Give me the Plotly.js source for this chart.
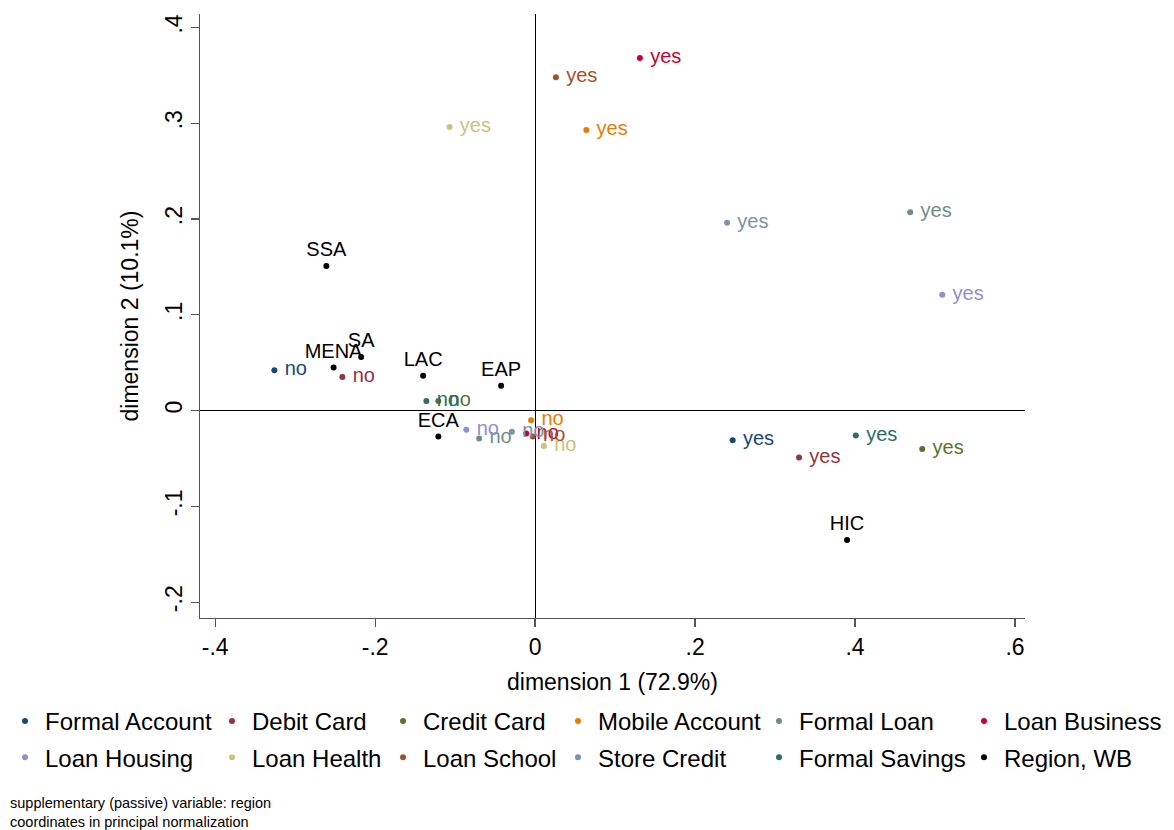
<!DOCTYPE html>
<html>
<head>
<meta charset="utf-8">
<script src="https://cdn.plot.ly/plotly-3.0.1.min.js"></script>
<style>html,body{margin:0;padding:0;background:#fff;}#chart{width:1174px;height:830px;}</style>
</head>
<body>
<div id="chart"></div>
<script>
// ---- data ----
const categories = ["Formal Account","Debit Card","Credit Card","Mobile Account","Formal Loan","Loan Business",
                    "Loan Housing","Loan Health","Loan School","Store Credit","Formal Savings"];
const levelLabels = ["no","yes"];
// dimension 1 coordinates [no, yes]
const dim1 = {
  "Formal Account": [-0.326, 0.247],
  "Debit Card":     [-0.241, 0.330],
  "Credit Card":    [-0.121, 0.484],
  "Mobile Account": [-0.005, 0.064],
  "Formal Loan":    [-0.070, 0.469],
  "Loan Business":  [-0.011, 0.131],
  "Loan Housing":   [-0.086, 0.509],
  "Loan Health":    [ 0.011,-0.107],
  "Loan School":    [-0.003, 0.026],
  "Store Credit":   [-0.029, 0.240],
  "Formal Savings": [-0.136, 0.401]
};
// dimension 2 coordinates [no, yes]
const dim2 = {
  "Formal Account": [ 0.042,-0.031],
  "Debit Card":     [ 0.035,-0.049],
  "Credit Card":    [ 0.010,-0.040],
  "Mobile Account": [-0.010, 0.293],
  "Formal Loan":    [-0.029, 0.207],
  "Loan Business":  [-0.024, 0.368],
  "Loan Housing":   [-0.020, 0.121],
  "Loan Health":    [-0.037, 0.296],
  "Loan School":    [-0.027, 0.348],
  "Store Credit":   [-0.022, 0.196],
  "Formal Savings": [ 0.010,-0.026]
};
const regions = ["SSA","MENA","SA","LAC","EAP","ECA","HIC"];
const regionDim1 = [-0.261,-0.252,-0.2175,-0.140,-0.0425,-0.121,0.390];
const regionDim2 = [ 0.151, 0.045, 0.056, 0.0365, 0.026,-0.027,-0.135];
const regionName = "Region, WB";

const xTickVals = [-0.4,-0.2,0,0.2,0.4,0.6];
const xTickText = ["-.4","-.2","0",".2",".4",".6"];
const yTickVals = [-0.2,-0.1,0,0.1,0.2,0.3,0.4];
const yTickText = ["-.2","-.1","0",".1",".2",".3",".4"];

// ---- styles ----
const colors = {
  "Formal Account":"#1a476f","Debit Card":"#90353b","Credit Card":"#55752f","Mobile Account":"#e37e00",
  "Formal Loan":"#6e8e84","Loan Business":"#c10534","Loan Housing":"#938dd2","Loan Health":"#cac27e",
  "Loan School":"#a0522d","Store Credit":"#7b92a8","Formal Savings":"#2d6d66"
};
const FONT = "Liberation Sans, Arial, Helvetica, sans-serif";
const legendOrder = categories.concat([regionName]);
const legendIds = ["legend","legend2","legend3","legend4","legend5","legend6"];

const traces = [];
categories.forEach((c) => {
  traces.push({
    type:"scatter", mode:"markers+text", name:c, showlegend:false, hoverinfo:"skip",
    x: dim1[c], y: dim2[c], text: levelLabels.map(s => " " + s),
    textposition:"middle right",
    textfont:{family:FONT, size:20, color:colors[c]},
    marker:{size:6, color:colors[c]}, cliponaxis:false
  });
});
traces.push({
  type:"scatter", mode:"markers+text", name:regionName, showlegend:false, hoverinfo:"skip",
  x: regionDim1, y: regionDim2, text: regions, textposition:"top center",
  textfont:{family:FONT, size:20, color:"#000"},
  marker:{size:6, color:"#000"}, cliponaxis:false
});
legendOrder.forEach((n, i) => {
  const col = i % 6;
  traces.push({
    type:"scatter", mode:"markers", name:n, x:[null], y:[null],
    marker:{size:6, color: colors[n] || "#000"},
    legend: legendIds[col], legendgroup: "g"+i, showlegend:true, hoverinfo:"skip"
  });
});

const L = 200, R = 149, T = 14, B = 212, W = 1174, H = 830;
const pw = W - L - R, ph = H - T - B;
const pxToPaperX = px => (px - L) / pw;
const pxToPaperY = py => (H - B - py) / ph;

const textStarts = [45, 252, 423, 598, 799, 1004];
const layout = {
  width:W, height:H, margin:{l:L, r:R, t:T, b:B, pad:0, autoexpand:false},
  paper_bgcolor:"#fff", plot_bgcolor:"#fff",
  font:{family:FONT, color:"#000"},
  showlegend:true,
  xaxis:{
    range:[-0.419, 0.6125], tickvals:xTickVals, ticktext:xTickText,
    showgrid:false, zeroline:true, zerolinecolor:"#000", zerolinewidth:1,
    showline:true, linecolor:"#555", linewidth:1.3,
    ticks:"outside", ticklen:8, tickcolor:"#555", tickwidth:1.3,
    tickfont:{family:FONT, size:23, color:"#000"},
    title:{text:"dimension 1 (72.9%)", font:{family:FONT, size:23, color:"#000"}, standoff:15}
  },
  yaxis:{
    range:[-0.2165, 0.414], tickvals:yTickVals, ticktext:yTickText, tickangle:-90,
    showgrid:false, zeroline:true, zerolinecolor:"#000", zerolinewidth:1,
    showline:true, linecolor:"#555", linewidth:1.3,
    ticks:"outside", ticklen:8, tickcolor:"#555", tickwidth:1.3,
    tickfont:{family:FONT, size:23, color:"#000"},
    title:{text:"dimension 2 (10.1%)", font:{family:FONT, size:23, color:"#000"}, standoff:15}
  },
  annotations:[{
    xref:"paper", yref:"paper", x:pxToPaperX(8), y:pxToPaperY(793), xanchor:"left", yanchor:"top",
    align:"left", showarrow:false,
    text:"supplementary (passive) variable: region<br>coordinates in principal normalization",
    font:{family:FONT, size:14.5, color:"#000"}
  }]
};
legendIds.forEach((id, i) => {
  layout[id] = {
    x: pxToPaperX(textStarts[i] - 40), y: pxToPaperY(699), xanchor:"left", yanchor:"top",
    orientation:"v", bgcolor:"rgba(0,0,0,0)", borderwidth:0,
    font:{family:FONT, size:24, color:"#000"}, tracegroupgap:2, itemclick:false, itemdoubleclick:false
  };
});

Plotly.newPlot("chart", traces, layout, {displayModeBar:false, staticPlot:true});
</script>
</body>
</html>
